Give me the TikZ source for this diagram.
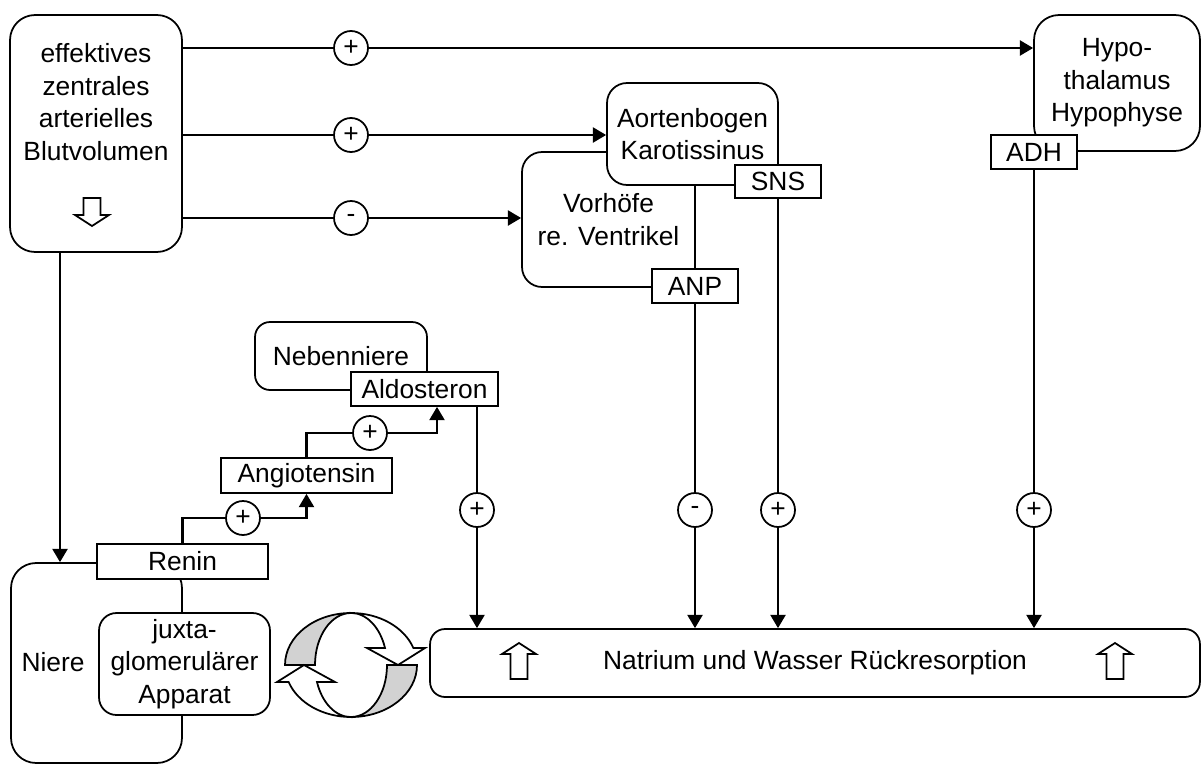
\documentclass[tikz,border=0pt]{standalone}
\usepackage{fontspec}
\setmainfont{Liberation Sans}
\usetikzlibrary{arrows.meta}
\pgfdeclarelayer{bg}
\pgfsetlayers{bg,main}

\begin{document}
\begin{tikzpicture}[x=0.02cm, y=-0.02cm,
    every node/.style={font=\fontsize{15}{18.5}\selectfont, inner sep=0pt, align=center, line width=1pt},
    box/.style={draw, fill=white, rounded corners=0.4cm},
    tag/.style={draw, fill=white},
    pm/.style={circle, draw, fill=white, minimum size=0.68cm},
    arr/.style={line width=1.25pt, -{Triangle[length=7.5pt,width=8.5pt]}},
    hollow arrow/.pic={\draw[line width=1pt, fill=white] (0,0) -- (17,11) -- (8.5,11) -- (8.5,#1) -- (-8.5,#1) -- (-8.5,11) -- (-17,11) -- cycle;}
]
\useasboundingbox (0,0) rectangle (1203,764);

% -------- Blutvolumen --------
\node[box, rounded corners=0.5cm, minimum width=3.44cm, minimum height=4.74cm] (blut) at (96,133.5) {};
\node (blutTxt) at (96,102) {effektives\\zentrales\\arterielles\\Blutvolumen};
\pic[rotate=180] at (92,226) {hollow arrow=28};
\coordinate (drop) at (60,400);

% -------- Hypothalamus / ADH --------
\node[box, rounded corners=0.5cm, minimum width=3.32cm, minimum height=2.72cm] (hypo) at (1117,83) {Hypo-\\thalamus\\Hypophyse};
\node[tag, minimum width=1.72cm, minimum height=0.68cm] (adh) at (1034,152) {ADH};

% -------- Vorhoefe, Aortenbogen (SNS, ANP) --------
\node[box, minimum width=3.46cm, minimum height=2.7cm] (vorhof) at (608.5,219.5) {Vorhöfe\\re. Ventrikel};
\node[box, minimum width=3.42cm, minimum height=2.04cm] (aorta) at (692.5,134) {Aortenbogen\\Karotissinus};
\node[tag, minimum width=1.72cm, minimum height=0.66cm] (sns) at (778,181.5) {SNS};
\node[tag, minimum width=1.72cm, minimum height=0.68cm] (anp) at (695,286) {ANP};

% -------- Nebenniere --------
\node[box, rounded corners=0.3cm, minimum width=3.44cm, minimum height=1.36cm] (neben) at (341,356) {Nebenniere};
\node[tag, minimum width=2.94cm, minimum height=0.68cm] (aldo) at (424.5,389) {Aldosteron};
\node[tag, minimum width=3.42cm, minimum height=0.7cm] (angio) at (306.5,475.5) {Angiotensin};

% -------- Niere --------
\node[box, rounded corners=0.5cm, minimum width=3.42cm, minimum height=4.0cm] (niere) at (96.5,663) {};
\node (niereTxt) at (53,662) {Niere};
\node[box, rounded corners=0.35cm, minimum width=3.42cm, minimum height=2.04cm] (juxta) at (184.5,664) {juxta-\\glomerulärer\\Apparat};
\node[tag, minimum width=3.42cm, minimum height=0.7cm] (renin) at (182.5,561.5) {Renin};

% -------- Rueckresorption --------
\node[box, rounded corners=0.3cm, minimum width=15.4cm, minimum height=1.36cm] (natrium) at (815,663) {Natrium und Wasser Rückresorption};
\pic at (519,643) {hollow arrow=36};
\pic at (1115,643) {hollow arrow=36};

% Kreislauf-Pfeile
\draw[line width=1pt, fill=gray!35] (351,613) arc[start angle=270, end angle=180, x radius=66, y radius=52]
  -- (315,665) arc[start angle=180, end angle=270, x radius=36, y radius=52] -- cycle;
\draw[line width=1pt, fill=white] (351,613) arc[start angle=270, end angle=341, x radius=66, y radius=52]
  -- (425,648) -- (398,665) -- (367,648) -- (385,648)
  arc[start angle=341, end angle=270, x radius=36, y radius=52] -- cycle;
\draw[line width=1pt, fill=gray!35] (351,717) arc[start angle=90, end angle=0, x radius=66, y radius=52]
  -- (387,665) arc[start angle=0, end angle=90, x radius=36, y radius=52] -- cycle;
\draw[line width=1pt, fill=white] (351,717) arc[start angle=90, end angle=161, x radius=66, y radius=52]
  -- (277,682) -- (304,665) -- (335,682) -- (317,682)
  arc[start angle=161, end angle=90, x radius=36, y radius=52] -- cycle;

% -------- Vorzeichen --------
\node[pm] (pTop) at (351,48) {+};
\node[pm] (pAorta) at (351,135) {+};
\node[pm] (mVorhof) at (351,218) {-};
\node[pm] (pRenin) at (243,518) {+};
\node[pm] (pAngio) at (370,433) {+};
\node[pm] (pAldo) at (477,510) {+};
\node[pm] (mAnp) at (695,510) {-};
\node[pm] (pSns) at (778,510) {+};
\node[pm] (pAdh) at (1034,510) {+};

% -------- Verbindungen --------
\begin{pgfonlayer}{bg}
\fill[white] (0,0) rectangle (1203,764);
\draw[arr] (blut.east |- pTop) -- (pTop -| hypo.west);
\draw[arr] (blut.east |- pAorta) -- (pAorta -| aorta.west);
\draw[arr] (blut.east |- mVorhof) -- (mVorhof -| vorhof.west);
\draw[arr] (blut.south -| drop) -- (niere.north -| drop);
\draw[arr] (renin.north) |- (pRenin.center) -| (angio.south);
\draw[arr] (angio.north) |- (pAngio.center) -| ([xshift=0.25cm]aldo.south);
\draw[arr] (aldo.south -| pAldo) -- (pAldo |- natrium.north);
\draw[arr] (anp.south) -- (mAnp |- natrium.north);
\draw[arr] (sns.south) -- (pSns |- natrium.north);
\draw[arr] (adh.south) -- (pAdh |- natrium.north);
\end{pgfonlayer}
\end{tikzpicture}
\end{document}
